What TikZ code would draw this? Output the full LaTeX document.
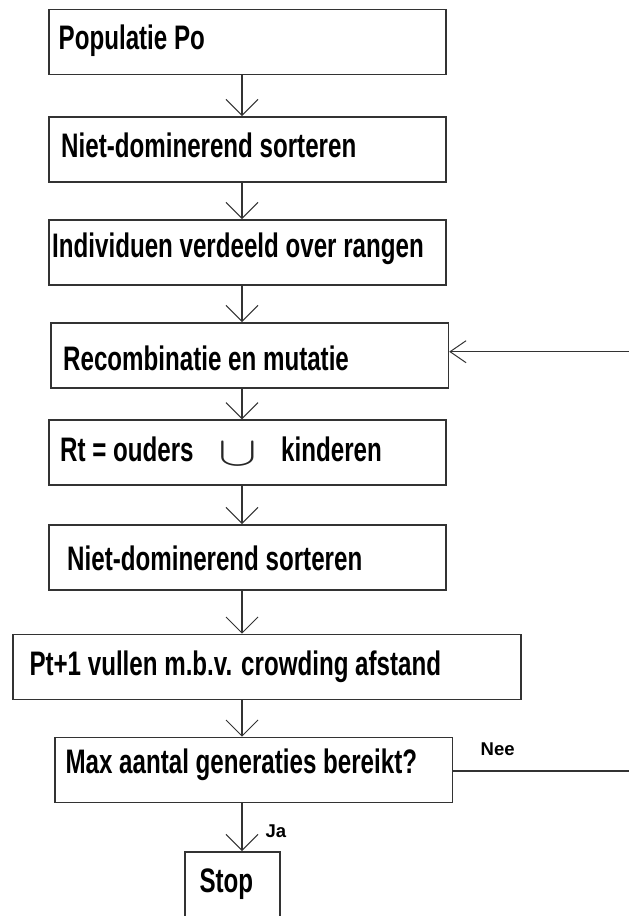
\documentclass[tikz,border=0pt]{standalone}
\usepackage{fontspec}
\usetikzlibrary{arrows.meta}
\newfontfamily\flowfont{Liberation Sans}[FakeStretch=0.71]
\newfontfamily\tagfont{Liberation Sans}

\begin{document}
\begin{tikzpicture}[x=1pt,y=-1pt,
  box/.style={draw=black!80, line width=1.5pt, rectangle, inner sep=0pt,
              anchor=north west, minimum height=65pt},
  txt/.style={anchor=base west, inner sep=0pt,
              font=\flowfont\bfseries\fontsize{34}{40}\selectfont},
  tag/.style={anchor=base west, inner sep=0pt,
              font=\tagfont\bfseries\fontsize{18.5}{20}\selectfont},
  link/.style={draw=black!80, line width=1.3pt},
  arr/.style={link, -{Straight Barb[length=16pt,width=32pt,line width=1pt]}},
  sidearr/.style={link, -{Straight Barb[length=16pt,width=22pt,line width=1pt]}},
]
\useasboundingbox (0,0) rectangle (629,916);

% process boxes
\node[box, minimum width=397pt] (b1) at (48,8.8) {};
\node[box, minimum width=397pt] (b2) at (48,116) {};
\node[box, minimum width=397pt] (b3) at (48,219) {};
\node[box, minimum width=397.7pt] (b4) at (50,322) {};
\node[box, minimum width=397pt] (b5) at (48,419.3) {};
\node[box, minimum width=397pt] (b6) at (48,524) {};
\node[box, minimum width=508pt] (b7) at (12,633.7) {};
\node[box, minimum width=397.7pt] (b8) at (54,736.7) {};
\node[box, minimum width=95pt, minimum height=100pt] (b9) at (184,851) {};

% box texts
\node[txt] (t1) at (58.5,49) {Populatie Po};
\node[txt] (t2) at (61,157) {Niet-dominerend sorteren};
\node[txt] (t3) at (52,257.3) {Individuen verdeeld over rangen};
\node[txt] (t4) at (63,370) {Recombinatie en mutatie};
\node[txt] (t5a) at (60,461.7) {Rt = ouders};
\node[anchor=base, inner sep=0pt, text=black!85] (t5b) at (238,465.8)
      {\scalebox{5.8}[4.1]{$\cup$}};
\node[txt] (t5c) at (281,461.7) {kinderen};
\node[txt] (t6) at (67,570.7) {Niet-dominerend sorteren};
\node[txt] (t7) at (29.3,675) {Pt+1 vullen m.b.v. crowding afstand};
\node[txt] (t8) at (65.4,773.3) {Max aantal generaties bereikt?};
\node[txt] (t9) at (199.4,892.7) {Stop};

% branch labels
\node[tag] (nee) at (480.5,755) {Nee};
\node[tag] (ja) at (265.5,837.7) {Ja};

% main flow axis
\coordinate (ax) at (242,0);
\draw[arr] (b1.south -| ax) -- (b2.north -| ax);
\draw[arr] (b2.south -| ax) -- (b3.north -| ax);
\draw[arr] (b3.south -| ax) -- (b4.north -| ax);
\draw[arr] (b4.south -| ax) -- (b5.north -| ax);
\draw[arr] (b5.south -| ax) -- (b6.north -| ax);
\draw[arr] (b6.south -| ax) -- (b7.north -| ax);
\draw[arr] (b7.south -| ax) -- (b8.north -| ax);
\draw[arr] (b8.south -| ax) -- (b9.north -| ax);

% loop back
\coordinate (rin) at (629,351.7);
\draw[sidearr] (rin) -- (rin -| b4.east);
\coordinate (rout) at (629,771);
\draw[link] (b8.east |- rout) -- (rout);
\end{tikzpicture}
\end{document}
